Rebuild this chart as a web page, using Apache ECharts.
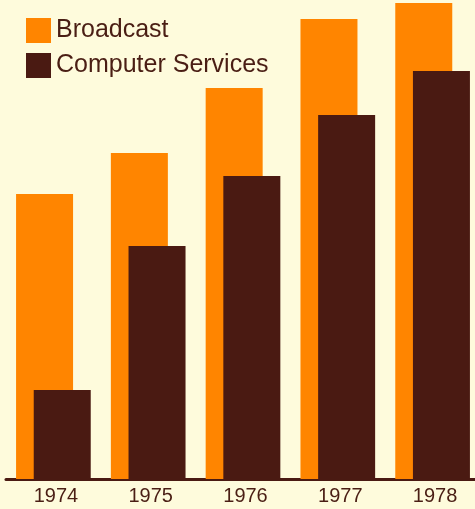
<!DOCTYPE html>
<html>
<head>
<meta charset="utf-8">
<script src="https://cdn.jsdelivr.net/npm/echarts@6/dist/echarts.min.js"></script>
<style>
html,body{margin:0;padding:0;background:#fefbdc;}
#c{width:475px;height:509px;}
</style>
</head>
<body>
<div id="c"></div>
<script>
var years = ['1974', '1975', '1976', '1977', '1978'];
var broadcast = [285, 326, 391, 460, 476];
var computerServices = [89, 233, 303, 364, 408];

var orange = '#ff8500';
var brown = '#4a1a12';
var textColor = '#4a1e14';

var chart = echarts.init(document.getElementById('c'), null, {renderer: 'canvas'});
chart.setOption({
  backgroundColor: '#fefbdc',
  animation: false,
  textStyle: {fontFamily: 'Liberation Sans, Arial, sans-serif'},
  legend: {
    orient: 'vertical',
    left: 21,
    top: 13,
    itemWidth: 25,
    itemHeight: 25,
    itemGap: 10,
    icon: 'rect',
    textStyle: {fontSize: 25, color: textColor, fontFamily: 'Liberation Sans, Arial, sans-serif'},
    data: ['Broadcast', 'Computer Services']
  },
  grid: {left: 6, width: 474, top: 0, bottom: 30, containLabel: false, outerBoundsMode: 'none'},
  xAxis: {
    type: 'category',
    data: years,
    axisLine: {show: true, lineStyle: {color: brown, width: 3}},
    axisTick: {show: false},
    axisLabel: {fontSize: 20, color: textColor, margin: 7, padding: [0, 0, 0, 5], fontFamily: 'Liberation Sans, Arial, sans-serif'}
  },
  yAxis: {
    type: 'value',
    min: 0,
    max: 479,
    show: false,
    splitLine: {show: false}
  },
  series: [
    {
      name: 'Broadcast',
      type: 'bar',
      data: broadcast,
      barWidth: 57,
      barGap: '-69%',
      itemStyle: {color: orange}
    },
    {
      name: 'Computer Services',
      type: 'bar',
      data: computerServices,
      barWidth: 57,
      itemStyle: {color: brown}
    }
  ]
});
</script>
</body>
</html>
